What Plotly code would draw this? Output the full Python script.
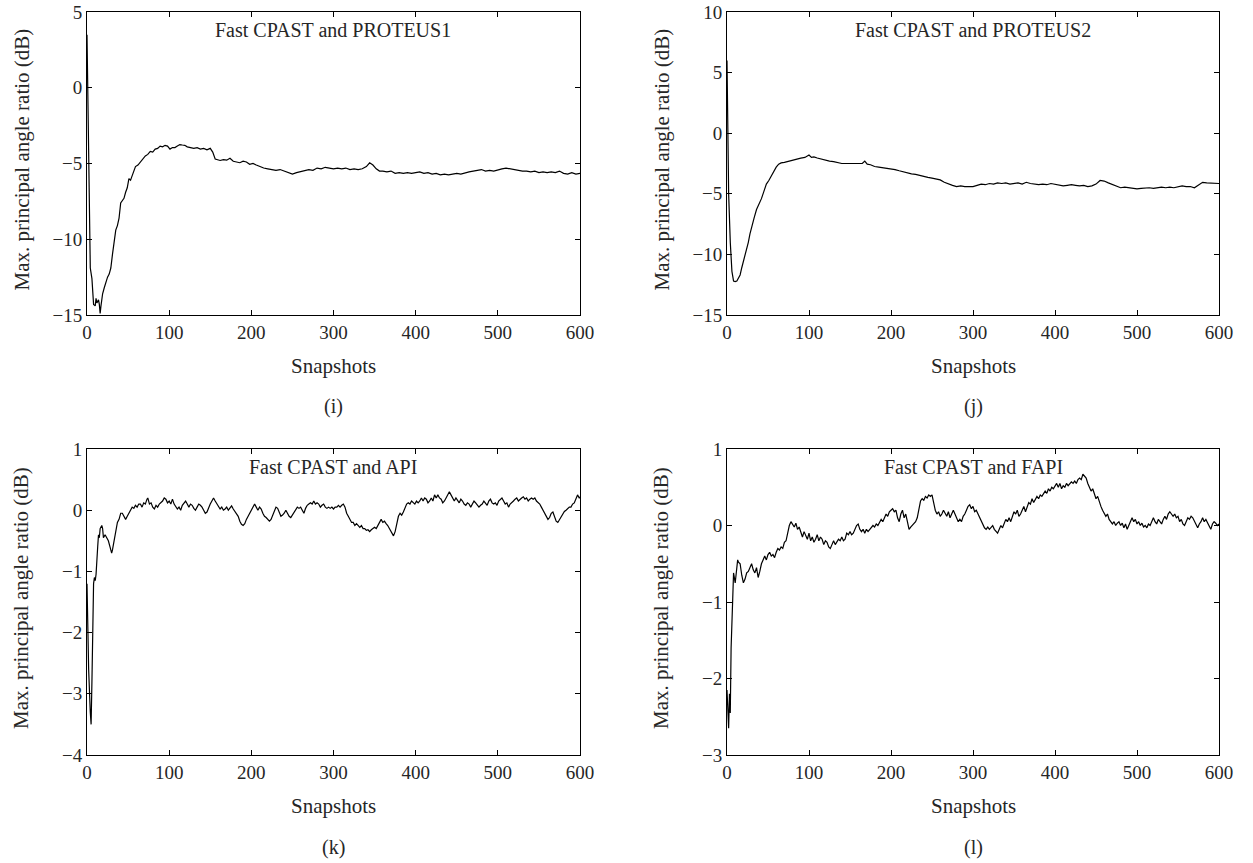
import plotly.graph_objects as go

# Snapshot index / max. principal angle ratio (dB) pairs for each comparison
proteus1_curve = [
    [0, 3.5], [2, -4.0], [4, -11.9], [6, -12.6], [8, -14.3], [10, -14.4], [11, -13.9], [12, -14.2],
    [14, -14.0], [15, -14.3], [16, -14.9], [17, -14.4], [19, -13.6], [21, -13.2], [23, -12.8],
    [25, -12.5], [27, -12.3], [29, -11.9], [31, -11.0], [33, -10.1], [35, -9.4], [37, -9.1],
    [39, -8.6], [41, -7.6], [43, -7.4], [45, -7.3], [47, -6.9], [49, -6.6], [51, -6.0], [53, -6.1],
    [55, -5.8], [57, -5.5], [59, -5.2], [62, -5.1], [65, -4.9], [68, -4.7], [71, -4.5], [74, -4.4],
    [77, -4.2], [80, -4.25], [83, -4.05], [86, -4.0], [89, -3.85], [92, -3.9], [95, -3.8],
    [98, -3.85], [101, -4.05], [104, -3.95], [107, -3.95], [110, -3.85], [113, -3.75], [116, -3.78],
    [119, -3.8], [122, -3.9], [126, -3.95], [130, -4.0], [134, -3.95], [138, -4.05], [142, -4.0],
    [146, -4.1], [150, -4.0], [153, -4.25], [156, -4.7], [159, -4.75], [162, -4.8], [166, -4.75],
    [170, -4.78], [174, -4.65], [178, -4.85], [182, -4.9], [186, -4.95], [190, -4.85], [194, -4.9],
    [198, -5.05], [202, -5.0], [206, -5.1], [210, -5.2], [215, -5.3], [220, -5.35], [225, -5.4],
    [230, -5.45], [235, -5.4], [240, -5.5], [245, -5.6], [250, -5.7], [255, -5.6], [260, -5.55],
    [265, -5.5], [270, -5.4], [275, -5.45], [280, -5.3], [285, -5.35], [290, -5.25], [295, -5.3],
    [300, -5.35], [305, -5.3], [310, -5.35], [315, -5.3], [320, -5.4], [325, -5.35], [330, -5.4],
    [335, -5.35], [340, -5.2], [344, -4.95], [348, -5.1], [352, -5.35], [356, -5.5], [360, -5.5],
    [365, -5.55], [370, -5.5], [375, -5.65], [380, -5.6], [385, -5.65], [390, -5.6], [395, -5.65],
    [400, -5.6], [405, -5.55], [410, -5.65], [415, -5.6], [420, -5.7], [425, -5.65], [430, -5.75],
    [435, -5.7], [440, -5.75], [445, -5.7], [450, -5.65], [455, -5.7], [460, -5.6], [465, -5.55],
    [470, -5.5], [475, -5.45], [480, -5.4], [485, -5.5], [490, -5.45], [495, -5.5], [500, -5.4],
    [505, -5.35], [510, -5.3], [515, -5.35], [520, -5.4], [525, -5.45], [530, -5.5], [535, -5.5],
    [540, -5.55], [545, -5.5], [550, -5.6], [555, -5.55], [560, -5.6], [565, -5.55], [570, -5.6],
    [575, -5.5], [580, -5.65], [585, -5.7], [590, -5.6], [595, -5.7], [600, -5.65],
]

proteus2_curve = [
    [0, 6.0], [1, 0.0], [2, -5.0], [4, -9.0], [6, -11.4], [8, -12.2], [10, -12.25], [12, -12.2],
    [14, -12.0], [16, -11.7], [18, -11.1], [20, -10.6], [22, -10.0], [24, -9.6], [26, -9.0],
    [28, -8.3], [30, -7.7], [33, -7.0], [36, -6.3], [39, -5.9], [42, -5.4], [45, -4.8], [48, -4.2],
    [51, -3.9], [54, -3.5], [57, -3.2], [60, -2.8], [63, -2.55], [66, -2.45], [70, -2.4],
    [75, -2.3], [80, -2.25], [85, -2.1], [90, -2.05], [95, -2.0], [100, -1.8], [103, -2.0],
    [106, -1.95], [110, -2.05], [115, -2.15], [120, -2.2], [125, -2.3], [130, -2.35], [135, -2.45],
    [140, -2.5], [145, -2.5], [150, -2.5], [155, -2.5], [160, -2.55], [165, -2.5], [168, -2.3],
    [171, -2.55], [175, -2.6], [180, -2.75], [185, -2.8], [190, -2.85], [195, -2.85], [200, -2.95],
    [205, -3.0], [210, -3.1], [215, -3.2], [220, -3.3], [225, -3.35], [230, -3.4], [235, -3.5],
    [240, -3.6], [245, -3.65], [250, -3.7], [255, -3.8], [260, -3.85], [265, -4.05], [270, -4.2],
    [275, -4.3], [280, -4.4], [285, -4.35], [290, -4.4], [295, -4.4], [300, -4.4], [305, -4.3],
    [310, -4.2], [315, -4.25], [320, -4.15], [325, -4.2], [330, -4.1], [335, -4.15], [340, -4.1],
    [345, -4.2], [350, -4.15], [355, -4.1], [360, -4.2], [365, -4.05], [370, -4.15], [375, -4.2],
    [380, -4.25], [385, -4.2], [390, -4.25], [395, -4.15], [400, -4.2], [405, -4.3], [410, -4.35],
    [415, -4.3], [420, -4.25], [425, -4.3], [430, -4.35], [435, -4.3], [440, -4.4], [445, -4.35],
    [450, -4.2], [455, -3.9], [460, -3.95], [465, -4.1], [470, -4.25], [475, -4.4], [480, -4.5],
    [485, -4.45], [490, -4.5], [495, -4.55], [500, -4.6], [505, -4.55], [510, -4.5], [515, -4.5],
    [520, -4.55], [525, -4.5], [530, -4.45], [535, -4.5], [540, -4.45], [545, -4.5], [550, -4.4],
    [555, -4.35], [560, -4.4], [565, -4.4], [570, -4.5], [575, -4.3], [580, -4.05], [585, -4.1],
    [590, -4.1], [595, -4.15], [600, -4.15],
]

api_curve = [
    [0, -1.2], [2, -2.6], [4, -3.3], [5, -3.5], [6, -2.8], [7, -1.6], [8, -1.2], [9, -1.1],
    [10, -1.15], [11, -1.05], [12, -0.7], [13, -0.6], [14, -0.4], [15, -0.45], [16, -0.3],
    [18, -0.25], [19, -0.3], [20, -0.45], [22, -0.4], [24, -0.45], [26, -0.5], [28, -0.6],
    [30, -0.7], [31, -0.65], [33, -0.5], [35, -0.35], [37, -0.2], [39, -0.15], [41, -0.05],
    [43, -0.05], [45, -0.1], [47, -0.15], [49, -0.1], [51, -0.05], [53, 0.0], [55, 0.05],
    [57, 0.03], [59, 0.08], [61, 0.05], [63, 0.1], [65, 0.1], [67, 0.05], [69, 0.12], [71, 0.1],
    [73, 0.18], [74, 0.2], [76, 0.1], [78, 0.12], [80, 0.05], [82, 0.02], [84, 0.08], [86, 0.05],
    [88, 0.1], [90, 0.12], [92, 0.15], [94, 0.2], [96, 0.18], [98, 0.12], [100, 0.15], [102, 0.1],
    [104, 0.18], [106, 0.1], [108, 0.05], [110, 0.02], [112, 0.05], [114, 0.0], [116, 0.08],
    [118, 0.12], [120, 0.15], [122, 0.1], [124, 0.05], [126, 0.1], [128, 0.08], [130, 0.03],
    [132, 0.0], [134, 0.05], [136, 0.1], [138, 0.08], [140, 0.05], [142, 0.0], [144, -0.05],
    [146, -0.03], [148, 0.05], [150, 0.1], [152, 0.15], [154, 0.2], [156, 0.15], [158, 0.1],
    [160, 0.05], [162, 0.02], [164, 0.05], [166, 0.0], [168, 0.02], [170, 0.05], [172, 0.0],
    [174, 0.03], [176, 0.07], [178, 0.02], [180, -0.02], [182, -0.05], [184, -0.1], [186, -0.18],
    [188, -0.23], [190, -0.25], [192, -0.22], [194, -0.15], [196, -0.1], [198, -0.05], [200, 0.0],
    [202, 0.05], [204, 0.1], [206, 0.05], [208, 0.0], [210, 0.05], [212, 0.02], [214, -0.05],
    [216, -0.1], [218, -0.12], [220, -0.15], [222, -0.18], [224, -0.15], [226, -0.08], [228, 0.0],
    [230, 0.05], [232, 0.03], [234, -0.05], [236, -0.1], [238, -0.08], [240, -0.05], [242, 0.0],
    [244, -0.05], [246, -0.1], [248, -0.12], [250, -0.08], [252, -0.05], [254, 0.0], [256, 0.05],
    [258, 0.03], [260, 0.05], [262, 0.0], [264, -0.05], [266, 0.03], [268, 0.08], [270, 0.1],
    [272, 0.12], [274, 0.1], [276, 0.15], [278, 0.1], [280, 0.12], [282, 0.1], [284, 0.05],
    [286, 0.08], [288, 0.1], [290, 0.05], [292, 0.03], [294, 0.05], [296, 0.03], [298, 0.05],
    [300, 0.02], [302, 0.05], [304, 0.05], [306, 0.08], [308, 0.05], [310, 0.08], [312, 0.1],
    [314, 0.05], [316, -0.05], [318, -0.1], [320, -0.15], [322, -0.2], [324, -0.2], [326, -0.25],
    [328, -0.22], [330, -0.25], [332, -0.28], [334, -0.25], [336, -0.3], [338, -0.3], [340, -0.33],
    [342, -0.32], [344, -0.35], [346, -0.32], [348, -0.3], [350, -0.28], [352, -0.3], [354, -0.25],
    [356, -0.2], [358, -0.15], [360, -0.2], [362, -0.18], [364, -0.22], [366, -0.25], [368, -0.3],
    [370, -0.35], [372, -0.4], [373, -0.42], [375, -0.35], [377, -0.2], [379, -0.1], [381, -0.05],
    [383, -0.08], [385, -0.03], [387, 0.05], [389, 0.1], [391, 0.12], [393, 0.1], [395, 0.15],
    [397, 0.12], [399, 0.1], [401, 0.15], [403, 0.12], [405, 0.15], [407, 0.2], [409, 0.15],
    [411, 0.2], [413, 0.18], [415, 0.12], [417, 0.15], [419, 0.2], [421, 0.15], [423, 0.25],
    [425, 0.2], [427, 0.25], [429, 0.2], [431, 0.18], [433, 0.12], [435, 0.15], [437, 0.2],
    [439, 0.25], [441, 0.3], [443, 0.25], [445, 0.2], [447, 0.15], [449, 0.2], [451, 0.15],
    [453, 0.12], [455, 0.18], [457, 0.15], [459, 0.1], [461, 0.08], [463, 0.12], [465, 0.1],
    [467, 0.05], [469, 0.1], [471, 0.15], [473, 0.12], [475, 0.08], [477, 0.05], [479, 0.08],
    [481, 0.1], [483, 0.15], [485, 0.12], [487, 0.08], [489, 0.15], [491, 0.18], [493, 0.12],
    [495, 0.1], [497, 0.12], [499, 0.08], [501, 0.15], [503, 0.18], [505, 0.2], [507, 0.15],
    [509, 0.1], [511, 0.12], [513, 0.05], [515, 0.1], [517, 0.12], [519, 0.15], [521, 0.18],
    [523, 0.2], [525, 0.15], [527, 0.18], [529, 0.2], [531, 0.22], [533, 0.18], [535, 0.2],
    [537, 0.15], [539, 0.18], [541, 0.2], [543, 0.18], [545, 0.2], [547, 0.15], [549, 0.12],
    [551, 0.1], [553, 0.05], [555, 0.0], [557, -0.05], [559, -0.1], [561, -0.15], [563, -0.12],
    [565, -0.05], [567, -0.03], [569, -0.1], [571, -0.18], [573, -0.2], [575, -0.15], [577, -0.1],
    [579, -0.05], [581, -0.02], [583, 0.0], [585, 0.03], [587, 0.05], [589, 0.05], [591, 0.1],
    [593, 0.12], [595, 0.18], [597, 0.25], [599, 0.2], [600, 0.22],
]

fapi_curve = [
    [0, -2.15], [1, -2.4], [2, -2.65], [3, -2.2], [4, -2.45], [5, -1.6], [6, -1.1], [7, -0.95],
    [8, -0.62], [9, -0.68], [10, -0.75], [11, -0.65], [12, -0.55], [13, -0.45], [14, -0.48],
    [16, -0.5], [18, -0.65], [20, -0.75], [22, -0.7], [24, -0.62], [26, -0.6], [28, -0.55],
    [30, -0.5], [32, -0.58], [34, -0.62], [36, -0.55], [38, -0.68], [40, -0.6], [42, -0.5],
    [44, -0.45], [46, -0.4], [48, -0.45], [50, -0.38], [52, -0.35], [54, -0.4], [56, -0.38],
    [58, -0.42], [60, -0.35], [62, -0.3], [64, -0.32], [66, -0.28], [68, -0.3], [70, -0.22],
    [72, -0.2], [74, -0.1], [76, 0.0], [78, 0.05], [80, 0.02], [82, -0.02], [84, 0.03],
    [86, -0.05], [88, -0.02], [90, -0.1], [92, -0.15], [94, -0.08], [96, -0.12], [98, -0.18],
    [100, -0.1], [102, -0.2], [104, -0.15], [106, -0.22], [108, -0.18], [110, -0.12], [112, -0.2],
    [114, -0.15], [116, -0.18], [118, -0.25], [120, -0.2], [122, -0.22], [124, -0.28], [126, -0.3],
    [128, -0.25], [130, -0.2], [132, -0.25], [134, -0.22], [136, -0.18], [138, -0.2], [140, -0.15],
    [142, -0.2], [144, -0.18], [146, -0.1], [148, -0.12], [150, -0.08], [152, -0.12], [154, -0.1],
    [156, -0.05], [158, 0.0], [160, 0.02], [162, -0.05], [164, -0.08], [166, -0.05], [168, -0.1],
    [170, -0.05], [172, -0.08], [174, -0.05], [176, -0.02], [178, 0.0], [180, -0.02], [182, 0.02],
    [184, 0.0], [186, 0.05], [188, 0.08], [190, 0.05], [192, 0.1], [194, 0.15], [196, 0.12],
    [198, 0.18], [200, 0.2], [202, 0.22], [204, 0.18], [206, 0.2], [208, 0.1], [210, 0.05],
    [212, 0.15], [214, 0.2], [216, 0.1], [218, 0.15], [220, 0.05], [222, -0.05], [224, -0.02],
    [226, 0.0], [228, 0.02], [230, 0.05], [232, 0.1], [234, 0.2], [236, 0.32], [238, 0.35],
    [240, 0.33], [242, 0.38], [244, 0.36], [246, 0.4], [248, 0.38], [250, 0.4], [252, 0.3],
    [254, 0.2], [256, 0.15], [258, 0.18], [260, 0.12], [262, 0.15], [264, 0.2], [266, 0.15],
    [268, 0.12], [270, 0.18], [272, 0.1], [274, 0.15], [276, 0.2], [278, 0.15], [280, 0.1],
    [282, 0.05], [284, 0.08], [286, 0.05], [288, 0.12], [290, 0.15], [292, 0.2], [294, 0.25],
    [296, 0.27], [298, 0.22], [300, 0.25], [302, 0.18], [304, 0.2], [306, 0.15], [308, 0.1],
    [310, 0.05], [312, 0.0], [314, -0.03], [316, -0.05], [318, -0.02], [320, -0.05], [322, -0.02],
    [324, 0.0], [326, -0.05], [328, -0.08], [330, -0.1], [332, -0.05], [334, 0.0], [336, -0.03],
    [338, 0.02], [340, 0.08], [342, 0.05], [344, 0.1], [346, 0.05], [348, 0.12], [350, 0.18],
    [352, 0.15], [354, 0.2], [356, 0.12], [358, 0.15], [360, 0.2], [362, 0.25], [364, 0.18],
    [366, 0.25], [368, 0.3], [370, 0.28], [372, 0.35], [374, 0.3], [376, 0.35], [378, 0.38],
    [380, 0.35], [382, 0.4], [384, 0.38], [386, 0.42], [388, 0.45], [390, 0.42], [392, 0.48],
    [394, 0.45], [396, 0.5], [398, 0.48], [400, 0.52], [402, 0.55], [404, 0.5], [406, 0.55],
    [408, 0.48], [410, 0.52], [412, 0.5], [414, 0.55], [416, 0.52], [418, 0.55], [420, 0.57],
    [422, 0.55], [424, 0.58], [426, 0.55], [428, 0.6], [430, 0.62], [432, 0.6], [434, 0.67],
    [436, 0.65], [438, 0.62], [440, 0.55], [442, 0.5], [444, 0.45], [446, 0.48], [448, 0.42],
    [450, 0.35], [452, 0.38], [454, 0.3], [456, 0.25], [458, 0.2], [460, 0.15], [462, 0.12],
    [464, 0.15], [466, 0.08], [468, 0.05], [470, 0.02], [472, 0.05], [474, 0.0], [476, 0.03],
    [478, 0.05], [480, 0.0], [482, 0.03], [484, -0.03], [486, 0.02], [488, -0.05], [490, 0.0],
    [492, 0.05], [494, 0.1], [496, 0.05], [498, 0.08], [500, 0.02], [502, 0.05], [504, 0.0],
    [506, 0.03], [508, -0.02], [510, 0.0], [512, -0.03], [514, 0.02], [516, 0.0], [518, 0.05],
    [520, 0.1], [522, 0.05], [524, 0.02], [526, 0.08], [528, 0.05], [530, 0.02], [532, 0.08],
    [534, 0.12], [536, 0.08], [538, 0.15], [540, 0.18], [542, 0.15], [544, 0.12], [546, 0.15],
    [548, 0.1], [550, 0.12], [552, 0.05], [554, 0.08], [556, 0.02], [558, 0.0], [560, 0.05],
    [562, 0.1], [564, 0.08], [566, 0.12], [568, 0.1], [570, 0.05], [572, 0.0], [574, -0.03],
    [576, 0.02], [578, 0.05], [580, 0.1], [582, 0.05], [584, 0.08], [586, 0.03], [588, 0.0],
    [590, -0.05], [592, 0.02], [594, 0.05], [596, 0.03], [598, 0.0], [600, 0.02],
]

panel_titles = ["Fast CPAST and PROTEUS1", "Fast CPAST and PROTEUS2",
                "Fast CPAST and API", "Fast CPAST and FAPI"]
panel_tags = ["(i)", "(j)", "(k)", "(l)"]
y_ranges = [[-15, 5], [-15, 10], [-4, 1], [-3, 1]]
y_steps = [5, 5, 1, 1]
x_ticks = [0, 100, 200, 300, 400, 500, 600]

curves = [proteus1_curve, proteus2_curve, api_curve, fapi_curve]

W, H = 1253, 863
# plot-area boxes in pixels: (left, right, top, bottom)
boxes = [(87, 580, 12, 315), (727, 1219, 12, 315),
         (87, 580, 449, 755), (727, 1219, 449, 755)]

FONT = "Liberation Serif"
TXT = "#262626"

fig = go.Figure()
annotations = []
layout_axes = {}

for i, (curve, box) in enumerate(zip(curves, boxes)):
    n = i + 1
    xs = [p[0] for p in curve]
    ys = [p[1] for p in curve]
    xa = "x" if n == 1 else f"x{n}"
    ya = "y" if n == 1 else f"y{n}"
    fig.add_trace(go.Scatter(x=xs, y=ys, mode="lines", xaxis=xa, yaxis=ya,
                             line=dict(color="black", width=1.2), showlegend=False,
                             hoverinfo="skip"))
    l, r, t, b = box
    xdom = [l / W, r / W]
    ydom = [1 - b / H, 1 - t / H]
    common = dict(showline=True, mirror="ticks", linecolor="black", linewidth=1,
                  ticks="inside", ticklen=5, tickcolor="black", tickwidth=1,
                  showgrid=False, zeroline=False, automargin=False,
                  ticklabeloverflow="allow",
                  tickfont=dict(family=FONT, size=19, color=TXT))
    layout_axes["xaxis" if n == 1 else f"xaxis{n}"] = dict(
        domain=xdom, range=[0, 600], tickvals=x_ticks, anchor=ya, **common)
    layout_axes["yaxis" if n == 1 else f"yaxis{n}"] = dict(
        domain=ydom, range=y_ranges[i], dtick=y_steps[i], anchor=xa, **common)

    cx = (l + r) / 2 / W
    cy = 1 - (t + b) / 2 / H
    annotations.append(dict(text=panel_titles[i], x=cx, y=1 - (t + 18) / H,
                            xref="paper", yref="paper", showarrow=False,
                            xanchor="center", yanchor="middle",
                            font=dict(family=FONT, size=20, color=TXT)))
    annotations.append(dict(text="Snapshots", x=cx, y=1 - (b + 51) / H,
                            xref="paper", yref="paper", showarrow=False,
                            xanchor="center", yanchor="middle",
                            font=dict(family=FONT, size=21, color=TXT)))
    annotations.append(dict(text=panel_tags[i], x=cx, y=1 - (b + 92) / H,
                            xref="paper", yref="paper", showarrow=False,
                            xanchor="center", yanchor="middle",
                            font=dict(family=FONT, size=20, color=TXT)))
    annotations.append(dict(text="Max. principal angle ratio (dB)", x=(l - 66) / W, y=cy + 4 / H,
                            xref="paper", yref="paper", showarrow=False, textangle=-90,
                            xanchor="center", yanchor="middle",
                            font=dict(family=FONT, size=21, color=TXT)))

fig.update_layout(width=W, height=H, margin=dict(l=0, r=0, t=0, b=0, autoexpand=False),
                  paper_bgcolor="white", plot_bgcolor="white",
                  annotations=annotations, **layout_axes)

fig.write_html("out.html")
